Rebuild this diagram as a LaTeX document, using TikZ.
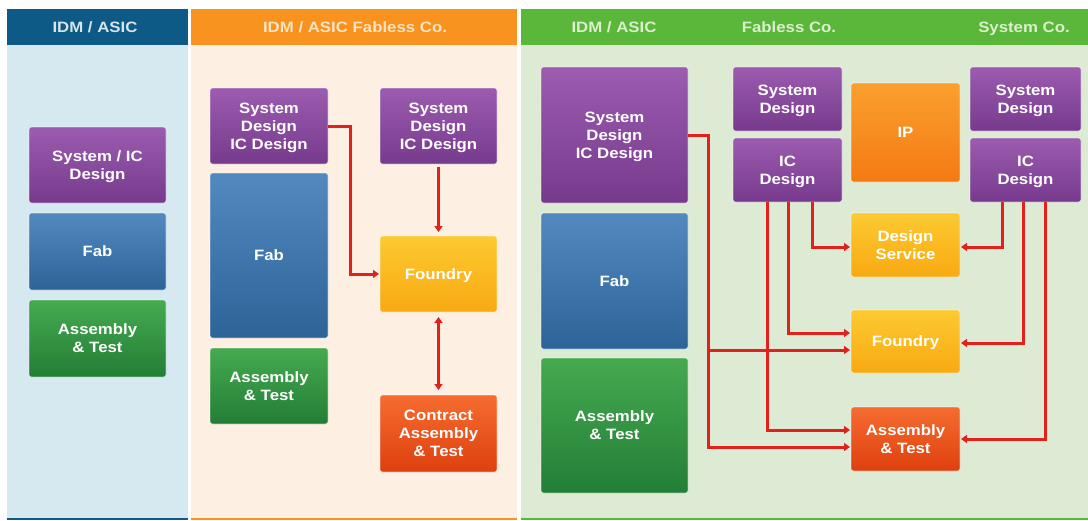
\documentclass[tikz,border=0pt]{standalone}
\usepackage{fontspec}
\newfontfamily\hfont[FakeStretch=1.12]{Liberation Sans}
\usetikzlibrary{arrows.meta,calc}
\definecolor{hdA}{HTML}{0E5A86}
\definecolor{hdB}{HTML}{F7931E}
\definecolor{hdC}{HTML}{5BB73A}
\definecolor{bgA}{HTML}{D6E8F0}
\definecolor{bgB}{HTML}{FDEFE2}
\definecolor{bgC}{HTML}{DDEBD5}
\definecolor{htA}{HTML}{D6E4EC}
\definecolor{htB}{HTML}{FCE3C4}
\definecolor{htC}{HTML}{DCEFD0}
\definecolor{arrred}{HTML}{E3211C}
\definecolor{puT}{RGB}{156,92,176}
\definecolor{puB}{RGB}{118,58,140}
\definecolor{blT}{RGB}{82,138,192}
\definecolor{blB}{RGB}{44,100,152}
\definecolor{grT}{RGB}{70,170,80}
\definecolor{grB}{RGB}{34,126,54}
\definecolor{yeT}{RGB}{253,201,49}
\definecolor{yeB}{RGB}{248,170,18}
\definecolor{ipT}{RGB}{250,160,46}
\definecolor{ipB}{RGB}{244,122,18}
\definecolor{rdT}{RGB}{246,108,48}
\definecolor{rdB}{RGB}{222,64,14}
\tikzset{
  box/.style={rounded corners=2.5pt, inner sep=0pt, outer sep=0pt, text=white,
    font=\hfont\bfseries\fontsize{15}{18}\selectfont, align=center, text depth=-6pt,
    draw=white, draw opacity=0.55, line width=0.8pt},
  purplebox/.style={box, top color=puT, bottom color=puB},
  bluebox/.style={box, top color=blT, bottom color=blB},
  greenbox/.style={box, top color=grT, bottom color=grB},
  yellowbox/.style={box, top color=yeT, bottom color=yeB},
  ipbox/.style={box, top color=ipT, bottom color=ipB},
  redbox/.style={box, top color=rdT, bottom color=rdB},
  hdtext/.style={font=\hfont\bfseries\fontsize{15}{18}\selectfont, inner sep=0pt, anchor=base},
  arr/.style={draw=arrred, line width=3pt, -{Triangle[length=6pt,width=8pt]}, shorten >=1pt},
  darr/.style={draw=arrred, line width=3pt, {Triangle[length=6pt,width=8pt]}-{Triangle[length=6pt,width=8pt]}}
}
\begin{document}
\begin{tikzpicture}[x=1pt,y=-1pt]
\useasboundingbox (0,0) rectangle (1088,520);
\fill[white] (0,0) rectangle (1088,520);
% column bodies
\fill[bgA] (7,44) rectangle (188,520);
\fill[bgB] (191,44) rectangle (517,520);
\fill[bgC] (521,44) rectangle (1088,520);
% headers
\fill[hdA] (7,9) rectangle (188,45);
\fill[hdB] (191,9) rectangle (517,45);
\fill[hdC] (521,9) rectangle (1088,45);
% bottom lines
\fill[hdA] (7,517.5) rectangle (188,520);
\fill[hdB] (191,517.5) rectangle (517,520);
\fill[hdC] (521,517.5) rectangle (1088,520);
% header texts
\node[hdtext, text=htA] (hA) at (95,32.5) {IDM / ASIC};
\node[hdtext, text=htB] (hB) at (355,32.5) {IDM / ASIC Fabless Co.};
\node[hdtext, text=htC] (hC1) at (614,32.5) {IDM / ASIC};
\node[hdtext, text=htC] (hC2) at (789,32.5) {Fabless Co.};
\node[hdtext, text=htC] (hC3) at (1024,32.5) {System Co.};
% column 1
\node[purplebox, minimum width=137pt, minimum height=76pt] (c1sys) at (97.5,165) {System / IC\\Design};
\node[bluebox, minimum width=137pt, minimum height=77pt] (c1fab) at (97.5,251.5) {Fab};
\node[greenbox, minimum width=137pt, minimum height=77pt] (c1at) at (97.5,338.5) {Assembly\\\& Test};
% column 2
\node[purplebox, minimum width=118pt, minimum height=76pt] (c2sysL) at (269,126) {System\\Design\\IC Design};
\node[bluebox, minimum width=118pt, minimum height=165pt] (c2fab) at (269,255.5) {Fab};
\node[greenbox, minimum width=118pt, minimum height=76pt] (c2at) at (269,386) {Assembly\\\& Test};
\node[purplebox, minimum width=117pt, minimum height=76pt] (c2sysR) at (438.5,126) {System\\Design\\IC Design};
\node[yellowbox, minimum width=117pt, minimum height=76pt] (c2found) at (438.5,274) {Foundry};
\node[redbox, minimum width=117pt, minimum height=77pt] (c2cat) at (438.5,433.5) {Contract\\Assembly\\\& Test};
% column 3
\node[purplebox, minimum width=147pt, minimum height=136pt] (c3sys) at (614.5,135) {System\\Design\\IC Design};
\node[bluebox, minimum width=147pt, minimum height=136pt] (c3fab) at (614.5,281) {Fab};
\node[greenbox, minimum width=147pt, minimum height=135pt] (c3at) at (614.5,425.5) {Assembly\\\& Test};
\node[purplebox, minimum width=109pt, minimum height=64pt] (c3fsd) at (787.5,99) {System\\Design};
\node[purplebox, minimum width=109pt, minimum height=64pt] (c3fic) at (787.5,170) {IC\\Design};
\node[ipbox, minimum width=109pt, minimum height=99pt] (c3ip) at (905.5,132.5) {IP};
\node[purplebox, minimum width=111pt, minimum height=64pt] (c3ssd) at (1025.5,99) {System\\Design};
\node[purplebox, minimum width=111pt, minimum height=64pt] (c3sic) at (1025.5,170) {IC\\Design};
\node[yellowbox, minimum width=109pt, minimum height=64pt] (c3ds) at (905.5,245) {Design\\Service};
\node[yellowbox, minimum width=109pt, minimum height=63pt] (c3found) at (905.5,341.5) {Foundry};
\node[redbox, minimum width=109pt, minimum height=64pt] (c3at2) at (905.5,439) {Assembly\\\& Test};
% column 2 connectors
\draw[arr] (c2sysL.east) -- ++(22,0) |- (c2found.west);
\draw[arr, shorten <=3pt, shorten >=4pt] (c2sysR.south) -- (c2found.north);
\draw[darr, shorten <=5pt, shorten >=5pt] (c2found.south) -- (c2cat.north);
% column 3 connectors
\draw[arr] (c3sys.east) -- ++(20,0) coordinate (j1) |- ([yshift=-8pt]c3at2.west);
\draw[arr] (j1) |- ([yshift=-8.5pt]c3found.west);
\draw[arr] ([xshift=24.5pt]c3fic.south) |- ([yshift=-2pt]c3ds.west);
\draw[arr] ([xshift=0.5pt]c3fic.south) |- ([yshift=8.5pt]c3found.west);
\draw[arr] ([xshift=-20.5pt]c3fic.south) |- ([yshift=9pt]c3at2.west);
\draw[arr] ([xshift=-23.5pt]c3sic.south) |- ([yshift=-2pt]c3ds.east);
\draw[arr] ([xshift=-2.5pt]c3sic.south) |- ([yshift=-1.5pt]c3found.east);
\draw[arr] ([xshift=19.5pt]c3sic.south) |- (c3at2.east);
\end{tikzpicture}
\end{document}
